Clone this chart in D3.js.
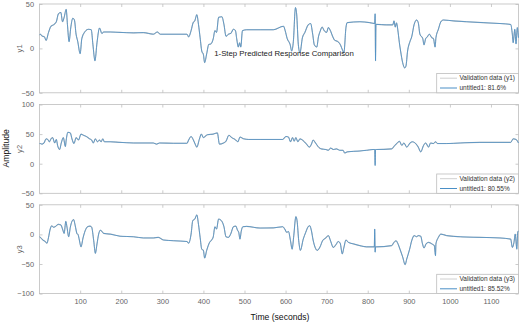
<!DOCTYPE html>
<html>
<head>
<meta charset="utf-8">
<script src="https://cdn.jsdelivr.net/npm/d3@7"></script>
<style>
  body { margin: 0; background: #fff; }
  svg { display: block; font-family: "Liberation Sans", Arial, sans-serif; }
</style>
</head>
<body>
<div id="chart"></div>
<script>
// dados: [tempo, amplitude]
const y1Points = [[1,15],[3,16],[7,14],[13,13],[17,9],[23,18],[29,25],[35,26.5],[42,30],[47,39],[53,40.5],[57,30],[61,35],[66,44],[69,27],[73,7.5],[77,23],[82,34],[86,32],[90,16],[94,8],[100,-6],[104,11],[112,19],[120,21.5],[127,21],[131,4.5],[136,-14],[141,6.5],[147,23],[153,16.7],[157,18.5],[173,18.5],[197,18],[230,17.5],[254,17.8],[278,16],[288,18.5],[295,16],[360,16],[364,13],[370,20],[375,29],[379,31],[384,38],[388,27],[392,12],[396,-3],[400,-7],[403,-16],[408,-6],[413,4.5],[418,5],[424,11],[428,20],[432,18],[437,35],[445,35.6],[450,27],[455,13.6],[461,16],[467,17],[473,21.6],[478,20],[481,11],[485,1.5],[488,6.4],[491,1.5],[495,20],[505,21],[538,21],[570,21],[595,25],[599,20],[604,11],[611,4.5],[615,-3],[619,8],[624,46],[627,38.6],[631,4.5],[635,-5],[641,12],[647,18],[655,26.5],[661,28],[666,16],[670,4],[676,1.5],[680,13],[684,19],[689,24],[694,20],[700,18],[704,23.5],[710,19],[715,13],[720,9],[726,8],[733,4.5],[739,-2.3],[742,-5],[747,23.5],[750,29],[781,30],[805,29],[817,28],[818,39],[819,-14],[820,27],[822,27],[846,26.5],[861,26.5],[864,31],[867,24],[870,28.8],[873,21.6],[877,6.4],[880,-3],[885,-16],[890,-22],[893,-20],[897,-3],[903,8],[907,13],[913,27],[919,32],[923,29],[927,16],[934,11],[937,4],[941,11],[945,13],[950,16],[956,12],[960,11],[964,1.5],[966,12],[972,21.6],[978,30],[984,32],[1008,31],[1041,30],[1081,29],[1122,28],[1148,27],[1152,16],[1154,6.4],[1158,21.6],[1161,5],[1164,23.5],[1167,12]];

const y2Points = [[1,34],[3,34],[7,33],[12,35],[17,42],[21,41],[25,37],[29,42],[33,44],[38,35],[42,41],[45,31],[50,24],[54,35],[59,44],[64,29],[66,40],[70,53],[76,52],[80,42],[85,34],[90,44],[96,40],[102,50],[108,48],[115,46],[123,42],[128,40],[132,35],[137,42],[142,37],[147,40],[151,37],[155,42],[159,37],[173,37],[197,36],[230,35],[278,35],[286,33],[293,35],[327,34.5],[360,34.5],[364,40],[370,46],[375,41],[380,33],[384,28],[390,41],[395,50],[400,44],[404,46],[410,49],[424,50],[434,52],[439,33],[449,35],[455,38],[462,48],[469,44],[477,41],[484,37],[489,45],[498,42],[510,41],[538,41],[593,41],[601,46],[607,45],[612,37],[617,44],[621,38],[625,44],[630,37],[635,42],[641,40],[651,33],[658,28],[663,33],[667,40],[671,37],[679,29],[687,25],[698,24],[704,22.6],[710,26.5],[716,24],[724,25],[732,22.6],[740,22.6],[744,18],[750,20],[781,21.5],[797,22.6],[813,24],[817,24],[818,-3],[819,24],[821,24],[858,25],[866,31],[872,35],[877,38],[883,31],[888,35],[895,28],[903,35],[909,37],[918,33],[923,28],[929,20],[936,31],[941,35],[948,28],[953,35],[960,34],[965,37],[970,34],[992,34],[1025,35],[1073,36],[1122,36],[1148,36],[1154,42],[1161,41],[1167,35]];

const y3Points = [[1,-4],[3,-5],[9,-9.5],[15,-12],[19,-15],[23,-5],[27,9],[31,14.6],[35,12],[39,13],[47,17],[53,16],[58,7],[61,1.7],[65,22],[68,12],[72,-4],[76,12],[80,22],[84,25],[88,14.6],[92,1.7],[95,-0.5],[98,-9.5],[102,-21],[107,-6],[112,6],[118,13],[124,14],[128,12],[133,-10.7],[137,-32],[141,-16],[145,0.5],[149,7],[153,5],[157,1.7],[173,0.5],[197,-3],[230,-4],[254,-6],[278,-6],[290,-5],[303,-9.5],[327,-10.7],[360,-12],[364,-15],[370,0.5],[374,23],[379,26],[384,33],[388,17],[392,-5],[396,-25],[400,-27],[403,-40],[408,-27],[415,-13.5],[420,-9.5],[424,-4],[428,13],[432,9],[437,26],[445,22],[450,13],[455,-4],[461,-5],[467,1.7],[473,13],[479,14],[483,7],[486,3.4],[489,-8],[492,5],[496,13],[505,13.5],[538,10.7],[570,11],[593,13],[598,9],[603,3.4],[607,5],[612,-10.7],[616,-25],[620,-2],[625,30],[628,23],[632,-10.7],[636,-27],[643,-8],[649,3.4],[655,13],[659,14.6],[663,6],[667,-9.5],[672,-22],[677,-27],[684,-21],[690,-10.7],[698,-6],[704,-2],[710,-12],[716,-22],[723,-17],[728,-12],[733,-15],[738,-33],[742,-22],[747,-9.5],[753,-13.5],[765,-16],[781,-19],[797,-21],[816,-21],[817,9],[818,-30],[819,-21],[821,-21],[858,-19],[864,-13.5],[869,-10.7],[873,-15],[879,-26],[885,-38],[891,-51],[895,-41.5],[902,-25],[907,-10.7],[913,-2],[919,-4],[923,-2],[929,-3],[933,-15],[937,-23],[942,-16],[948,-13.5],[956,-16],[962,-19],[965,-36],[966,-16],[972,-5],[978,0.5],[992,-2],[1025,-4],[1073,-5],[1122,-6],[1148,-8],[1152,-22],[1156,-13.5],[1159,0.5],[1163,-25],[1165,3.4],[1167,6]];

const outputNames = ["y1", "y2", "y3"];
const fitLabels = ["untitled1: 81.6%", "untitled1: 80.55%", "untitled1: 85.52%"];
const yDomains = [[-50, 50], [-50, 100], [-100, 50]];
const yTicks = [[-50, 0, 50], [-50, 0, 50, 100], [-100, -50, 0, 50]];
const xTicks = [100, 200, 300, 400, 500, 600, 700, 800, 900, 1000, 1100];
const allPoints = [y1Points, y2Points, y3Points];

const W = 520, H = 323;
const left = 39.5, right = 518.5;
const tops = [4, 104.5, 204.8];
const ph = 88.8;
const blue = "#4a8fc6";

const svg = d3.select("#chart").append("svg")
    .attr("width", W)
    .attr("height", H);

const x = d3.scaleLinear().domain([1, 1167]).range([left, right]);

outputNames.forEach((nm, i) => {
    const y = d3.scaleLinear().domain(yDomains[i]).range([tops[i] + ph, tops[i]]);
    const g = svg.append("g");

    // eixos
    g.append("g")
        .attr("transform", `translate(0,${tops[i] + ph})`)
        .call(d3.axisBottom(x).tickValues(xTicks).tickSize(-3).tickPadding(5)
            .tickFormat(i === 2 ? d3.format("d") : ""));
    g.append("g")
        .attr("transform", `translate(0,${tops[i]})`)
        .call(d3.axisTop(x).tickValues(xTicks).tickSize(-3).tickFormat(""));
    g.append("g")
        .attr("transform", `translate(${left},0)`)
        .call(d3.axisLeft(y).tickValues(yTicks[i]).tickSize(-3).tickPadding(5.5));
    g.append("g")
        .attr("transform", `translate(${right},0)`)
        .call(d3.axisRight(y).tickValues(yTicks[i]).tickSize(-3).tickFormat(""));

    g.selectAll(".domain").remove();
    g.selectAll(".tick line").attr("stroke", "#aaa").attr("stroke-width", 0.6);
    g.selectAll(".tick text").attr("fill", "#666").style("font-size", "7.4px")
        .style("font-family", "Liberation Sans, Arial, sans-serif");

    g.append("rect")
        .attr("x", left).attr("y", tops[i])
        .attr("width", right - left).attr("height", ph)
        .attr("fill", "none").attr("stroke", "#bdbdbd").attr("stroke-width", 0.8);

    const line = d3.line().curve(d3.curveMonotoneX)
        .x(d => x(d[0])).y(d => y(d[1]));

    g.append("path").datum(allPoints[i])
        .attr("d", line)
        .attr("fill", "none").attr("stroke", "#bcbcbc").attr("stroke-width", 1.1);
    g.append("path").datum(allPoints[i])
        .attr("d", line)
        .attr("fill", "none").attr("stroke", blue).attr("stroke-width", 0.8);

    g.append("text")
        .attr("transform", `translate(22,${tops[i] + ph / 2}) rotate(-90)`)
        .attr("text-anchor", "middle")
        .attr("fill", "#666").style("font-size", "7.6px")
        .text(nm);

    // legenda
    const lb = tops[i] + ph;
    const lg = g.append("g");
    lg.append("rect")
        .attr("x", 436.7).attr("y", lb - 19.3)
        .attr("width", right - 436.7).attr("height", 19.3)
        .attr("fill", "#fff").attr("stroke", "#bdbdbd").attr("stroke-width", 0.8);
    lg.append("line")
        .attr("x1", 440).attr("x2", 457).attr("y1", lb - 14.6).attr("y2", lb - 14.6)
        .attr("stroke", "#c4c4c4").attr("stroke-width", 0.8);
    lg.append("line")
        .attr("x1", 440).attr("x2", 457).attr("y1", lb - 4.8).attr("y2", lb - 4.8)
        .attr("stroke", blue).attr("stroke-width", 1);
    lg.append("text")
        .attr("x", 459.5).attr("y", lb - 12.4)
        .attr("fill", "#333").style("font-size", "6.5px")
        .text(`Validation data (${nm})`);
    lg.append("text")
        .attr("x", 459.5).attr("y", lb - 2.6)
        .attr("fill", "#333").style("font-size", "6.5px")
        .text(fitLabels[i]);
});

svg.append("text")
    .attr("x", 284).attr("y", 55.5)
    .attr("text-anchor", "middle")
    .attr("fill", "#222").style("font-size", "7.8px")
    .text("1-Step Predicted Response Comparison");

svg.append("text")
    .attr("x", 280).attr("y", 319.8)
    .attr("text-anchor", "middle")
    .attr("fill", "#111").style("font-size", "8.6px")
    .text("Time (seconds)");

svg.append("text")
    .attr("transform", "translate(9,148.3) rotate(-90)")
    .attr("text-anchor", "middle")
    .attr("fill", "#111").style("font-size", "8.6px")
    .text("Amplitude");
</script>
</body>
</html>
